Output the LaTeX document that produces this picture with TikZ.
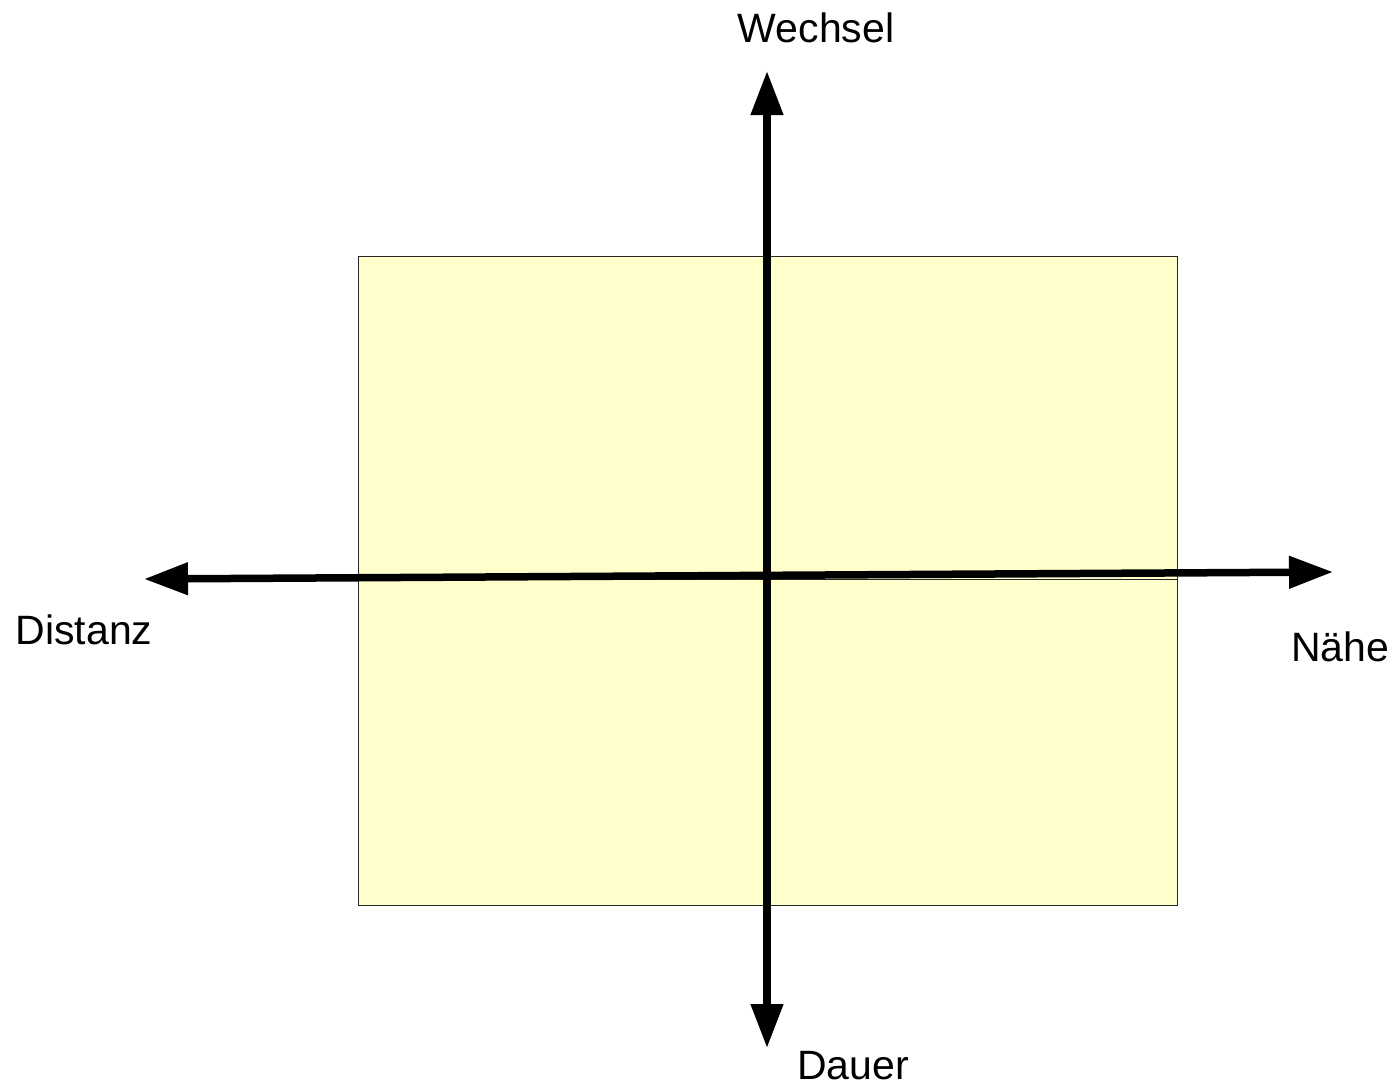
\documentclass[tikz,border=0pt]{standalone}
\usepackage{fontspec}
\setmainfont{Liberation Sans}
\usetikzlibrary{arrows.meta}
\definecolor{paleyellow}{RGB}{255,255,204}
\begin{document}
\begin{tikzpicture}[x=1pt,y=-1pt,
  quad/.style={fill=paleyellow,draw=black!85,line width=0.9pt},
  axis/.style={line width=7.5pt,{Triangle[length=44pt,width=31pt]}-{Triangle[length=44pt,width=31pt]}},
  lbl/.style={font=\fontsize{41}{48}\selectfont,inner sep=0pt}]
\useasboundingbox (0,0) rectangle (1396,1087);
\fill[white] (0,0) rectangle (1396,1087);
\draw[quad] (358,256) rectangle (1177,579);
\draw[quad] (358,579) rectangle (1177,905);
\coordinate (top) at (767,71);
\coordinate (bottom) at (767,1048);
\coordinate (left) at (144,579);
\coordinate (right) at (1333,572);
\draw[axis] (bottom) -- (top);
\draw[axis] (left) -- (right);
\node[lbl] (wechsel) at (816,28) {Wechsel};
\node[lbl] (distanz) at (84,630) {Distanz};
\node[lbl] (naehe) at (1340,647) {Nähe};
\node[lbl] (dauer) at (853,1066) {Dauer};
\end{tikzpicture}
\end{document}
